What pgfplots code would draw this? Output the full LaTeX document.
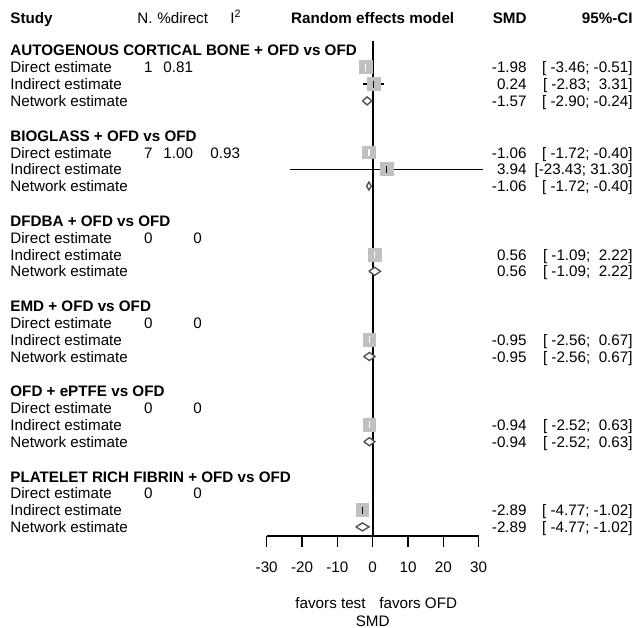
\documentclass[border=0pt]{standalone}
\usepackage{fontspec}
\setmainfont{Liberation Sans}
\usepackage{pgfplots}
\pgfplotsset{compat=1.18}
\definecolor{sqgray}{RGB}{192,192,192}
\definecolor{dmd}{RGB}{85,85,85}
\newcommand\ff{\fontsize{7.6}{9.1}\selectfont}
\begin{document}
\ff
\begin{tikzpicture}[every node/.style={font=\ff, inner sep=0pt}]
\begin{axis}[
  x=1.7665pt, y=0.5pt,
  xmin=-30, xmax=30, ymin=-536, ymax=-30,
  enlargelimits=false, clip=false,
  axis x line*=bottom, hide y axis,
  x axis line style={line width=0.75pt},
  xtick={-30,-20,-10,0,10,20,30},
  xticklabels={-30,-20,-10,0,10,20,30},
  tick align=outside, major tick length=5.5pt,
  every tick/.style={black, line width=0.75pt},
  xticklabel style={font=\ff, anchor=base, inner sep=0pt, yshift=-12.75pt},
  every node/.append style={font=\ff, inner sep=0pt},
]
% zero line
\addplot[black, line width=0.9pt, forget plot] coordinates {(0,-41) (0,-536)};

% ---- squares (direct / indirect estimates), CI lies inside square -> white lines
\addplot[only marks, mark=square*, mark size=3.2pt, mark options={fill=sqgray, draw=sqgray}, forget plot]
 coordinates {(-1.98,-67.3) (-1.06,-152.5) (0.56,-254.5) (-0.95,-339.7) (-0.94,-424.9)};
% squares with CI wider than square -> black lines
\addplot[only marks, mark=square*, mark size=3.2pt, mark options={fill=sqgray, draw=sqgray}, forget plot]
 coordinates {(0.24,-84.1) (3.94,-169.3) (-2.89,-510.1)};

% CI lines (white, inside squares)
\addplot[white, line width=0.7pt, forget plot] coordinates {(-3.46,-67.3) (-0.51,-67.3)};
\addplot[white, line width=0.7pt, forget plot] coordinates {(-1.72,-152.5) (-0.40,-152.5)};
\addplot[white, line width=0.7pt, forget plot] coordinates {(-1.09,-254.5) (2.22,-254.5)};
\addplot[white, line width=0.7pt, forget plot] coordinates {(-2.56,-339.7) (0.67,-339.7)};
\addplot[white, line width=0.7pt, forget plot] coordinates {(-2.52,-424.9) (0.63,-424.9)};
\addplot[only marks, mark=|, mark size=1.75pt, white, mark options={line width=0.7pt}, forget plot]
 coordinates {(-1.98,-67.3) (-1.06,-152.5) (0.56,-254.5) (-0.95,-339.7) (-0.94,-424.9)};
% CI lines (black)
\addplot[black, line width=0.7pt, forget plot] coordinates {(-2.83,-84.1) (3.31,-84.1)};
\addplot[black, line width=0.7pt, forget plot] coordinates {(-23.43,-169.3) (31.30,-169.3)};
\addplot[black, line width=0.7pt, forget plot] coordinates {(-4.77,-510.1) (-1.02,-510.1)};
\addplot[only marks, mark=|, mark size=1.75pt, black, mark options={line width=0.7pt}, forget plot]
 coordinates {(0.24,-84.1) (3.94,-169.3) (-2.89,-510.1)};

% ---- diamonds (network estimates)
\addplot[fill=white, draw=dmd, line width=0.7pt, forget plot] coordinates {(-2.90,-100.9) (-1.57,-96.9) (-0.24,-100.9) (-1.57,-104.9) (-2.90,-100.9)};
\addplot[fill=white, draw=dmd, line width=0.7pt, forget plot] coordinates {(-1.72,-186.1) (-1.06,-182.1) (-0.40,-186.1) (-1.06,-190.1) (-1.72,-186.1)};
\addplot[fill=white, draw=dmd, line width=0.7pt, forget plot] coordinates {(-1.09,-271.3) (0.56,-267.3) (2.22,-271.3) (0.56,-275.3) (-1.09,-271.3)};
\addplot[fill=white, draw=dmd, line width=0.7pt, forget plot] coordinates {(-2.56,-356.5) (-0.95,-352.5) (0.67,-356.5) (-0.95,-360.5) (-2.56,-356.5)};
\addplot[fill=white, draw=dmd, line width=0.7pt, forget plot] coordinates {(-2.52,-441.7) (-0.94,-437.7) (0.63,-441.7) (-0.94,-445.7) (-2.52,-441.7)};
\addplot[fill=white, draw=dmd, line width=0.7pt, forget plot] coordinates {(-4.77,-526.9) (-2.89,-522.9) (-1.02,-526.9) (-2.89,-530.9) (-4.77,-526.9)};

% ---- header
\node[font=\ff\bfseries, anchor=base west] at (axis cs:-102.66,-23.5) {Study};
\node[font=\ff, anchor=base east] at (axis cs:-62.19,-23.5) {N.};
\node[font=\ff, anchor=base west] at (axis cs:-61.06,-23.5) {\%direct};
\node[font=\ff, anchor=base west] at (axis cs:-40.39,-23.5) {I\textsuperscript{2}};
\node[font=\ff\bfseries, anchor=base] at (axis cs:0,-23.5) {Random effects model};
\node[font=\ff\bfseries, anchor=base east] at (axis cs:43.68,-23.5) {SMD};
\node[font=\ff\bfseries, anchor=base east] at (axis cs:73.68,-23.5) {95\%-CI};

% ---- group titles
\node[font=\ff\bfseries, anchor=base west] at (axis cs:-102.66,-56) {AUTOGENOUS CORTICAL BONE + OFD vs OFD};
\node[font=\ff\bfseries, anchor=base west] at (axis cs:-102.66,-141.2) {BIOGLASS + OFD vs OFD};
\node[font=\ff\bfseries, anchor=base west] at (axis cs:-102.66,-226.4) {DFDBA + OFD vs OFD};
\node[font=\ff\bfseries, anchor=base west] at (axis cs:-102.66,-311.6) {EMD + OFD vs OFD};
\node[font=\ff\bfseries, anchor=base west] at (axis cs:-102.66,-396.8) {OFD + ePTFE vs OFD};
\node[font=\ff\bfseries, anchor=base west] at (axis cs:-102.66,-482) {PLATELET RICH FIBRIN + OFD vs OFD};

% ---- row labels
\foreach \b in {72.8,158,243.2,328.4,413.6,498.8}{
  \edef\tmp{\noexpand\node[font=\noexpand\ff, anchor=base west] at (axis cs:-102.66,-\b) {Direct estimate};}\tmp}
\foreach \b in {89.6,174.8,260,345.2,430.4,515.6}{
  \edef\tmp{\noexpand\node[font=\noexpand\ff, anchor=base west] at (axis cs:-102.66,-\b) {Indirect estimate};}\tmp}
\foreach \b in {106.4,191.6,276.8,362,447.2,532.4}{
  \edef\tmp{\noexpand\node[font=\noexpand\ff, anchor=base west] at (axis cs:-102.66,-\b) {Network estimate};}\tmp}

% ---- N, %direct, I2
\node[font=\ff, anchor=base east] at (axis cs:-62.19,-72.8) {1};
\node[font=\ff, anchor=base west] at (axis cs:-59.36,-72.8) {0.81};
\node[font=\ff, anchor=base east] at (axis cs:-62.19,-158) {7};
\node[font=\ff, anchor=base west] at (axis cs:-59.36,-158) {1.00};
\node[font=\ff, anchor=base west] at (axis cs:-46.05,-158) {0.93};
\foreach \b in {243.2,328.4,413.6,498.8}{
  \edef\tmp{\noexpand\node[font=\noexpand\ff, anchor=base east] at (axis cs:-62.19,-\b) {0};
  \noexpand\node[font=\noexpand\ff, anchor=base west] at (axis cs:-50.87,-\b) {0};}\tmp}

% ---- SMD and CI
\node[font=\ff, anchor=base east] at (axis cs:43.68,-72.8) {-1.98};
\node[font=\ff, anchor=base east] at (axis cs:73.68,-72.8) {[\ -3.46; -0.51]};
\node[font=\ff, anchor=base east] at (axis cs:43.68,-89.6) {0.24};
\node[font=\ff, anchor=base east] at (axis cs:73.68,-89.6) {[\ -2.83;\ \ 3.31]};
\node[font=\ff, anchor=base east] at (axis cs:43.68,-106.4) {-1.57};
\node[font=\ff, anchor=base east] at (axis cs:73.68,-106.4) {[\ -2.90; -0.24]};

\node[font=\ff, anchor=base east] at (axis cs:43.68,-158) {-1.06};
\node[font=\ff, anchor=base east] at (axis cs:73.68,-158) {[\ -1.72; -0.40]};
\node[font=\ff, anchor=base east] at (axis cs:43.68,-174.8) {3.94};
\node[font=\ff, anchor=base east] at (axis cs:73.68,-174.8) {[-23.43; 31.30]};
\node[font=\ff, anchor=base east] at (axis cs:43.68,-191.6) {-1.06};
\node[font=\ff, anchor=base east] at (axis cs:73.68,-191.6) {[\ -1.72; -0.40]};

\node[font=\ff, anchor=base east] at (axis cs:43.68,-260) {0.56};
\node[font=\ff, anchor=base east] at (axis cs:73.68,-260) {[\ -1.09;\ \ 2.22]};
\node[font=\ff, anchor=base east] at (axis cs:43.68,-276.8) {0.56};
\node[font=\ff, anchor=base east] at (axis cs:73.68,-276.8) {[\ -1.09;\ \ 2.22]};

\node[font=\ff, anchor=base east] at (axis cs:43.68,-345.2) {-0.95};
\node[font=\ff, anchor=base east] at (axis cs:73.68,-345.2) {[\ -2.56;\ \ 0.67]};
\node[font=\ff, anchor=base east] at (axis cs:43.68,-362) {-0.95};
\node[font=\ff, anchor=base east] at (axis cs:73.68,-362) {[\ -2.56;\ \ 0.67]};

\node[font=\ff, anchor=base east] at (axis cs:43.68,-430.4) {-0.94};
\node[font=\ff, anchor=base east] at (axis cs:73.68,-430.4) {[\ -2.52;\ \ 0.63]};
\node[font=\ff, anchor=base east] at (axis cs:43.68,-447.2) {-0.94};
\node[font=\ff, anchor=base east] at (axis cs:73.68,-447.2) {[\ -2.52;\ \ 0.63]};

\node[font=\ff, anchor=base east] at (axis cs:43.68,-515.6) {-2.89};
\node[font=\ff, anchor=base east] at (axis cs:73.68,-515.6) {[\ -4.77; -1.02]};
\node[font=\ff, anchor=base east] at (axis cs:43.68,-532.4) {-2.89};
\node[font=\ff, anchor=base east] at (axis cs:73.68,-532.4) {[\ -4.77; -1.02]};

% ---- axis labels
\node[font=\ff, anchor=base east] at (axis cs:-1.9,-608) {favors test};
\node[font=\ff, anchor=base west] at (axis cs:1.78,-608) {favors OFD};
\node[font=\ff, anchor=base] at (axis cs:0,-626.2) {SMD};

% bounding frame of the picture
\path (axis cs:-105.49,0) rectangle (axis cs:74.81,-627);
\end{axis}
\end{tikzpicture}
\end{document}
